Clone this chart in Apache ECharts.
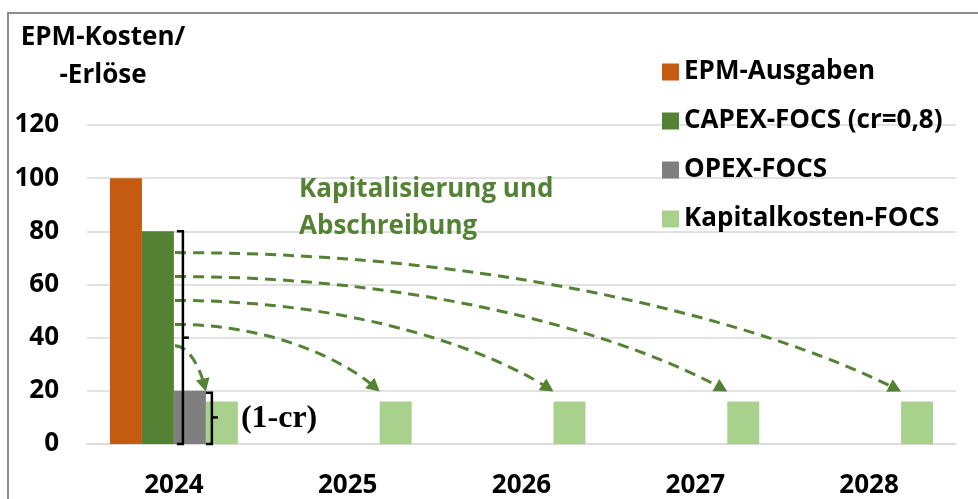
<!DOCTYPE html>
<html>
<head>
<meta charset="utf-8">
<title>EPM-Kosten</title>
<script src="https://cdn.jsdelivr.net/npm/echarts@6/dist/echarts.min.js"></script>
<style>
  html, body { margin: 0; padding: 0; background: #fff; }
  #chart { width: 978px; height: 499px; }
</style>
</head>
<body>
<div id="chart"></div>
<script>
const years = ['2024', '2025', '2026', '2027', '2028']
const epmAusgaben = [100, null, null, null, null]
const capexFocs = [80, null, null, null, null]
const opexFocs = [20, null, null, null, null]
const kapitalkostenFocs = [16, 16, 16, 16, 16]
const yTicks = [0, 20, 40, 60, 80, 100, 120]
// start heights of the dashed arrows on the CAPEX bar, one per target year
const arrowStarts = [37, 45, 54, 63, 72]

const fontFamily = '"Open Sans", Lato, sans-serif'
const fontSize = 26
const green = '#548235'
const barCategoryGap = 0.264

const chart = echarts.init(document.getElementById('chart'))

function bar(name, data, color) {
  return {
    name: name,
    type: 'bar',
    data: data,
    barGap: '0%',
    barCategoryGap: (barCategoryGap * 100) + '%',
    itemStyle: { color: color },
    emphasis: { disabled: true }
  }
}

chart.setOption({
  animation: false,
  grid: { left: 87, right: 22, top: 125, bottom: 53 },
  legend: {
    orient: 'vertical',
    left: 657,
    top: 52,
    itemWidth: 17,
    itemHeight: 17,
    itemGap: 19,
    icon: 'rect',
    selectedMode: false,
    textStyle: {
      fontFamily: fontFamily,
      fontWeight: 'bold',
      fontSize: fontSize,
      lineHeight: 30,
      color: '#000'
    }
  },
  xAxis: {
    type: 'category',
    data: years,
    axisLine: { lineStyle: { color: '#d9d9d9', width: 1.5 } },
    axisTick: { show: false },
    axisLabel: {
      margin: 29,
      fontFamily: fontFamily,
      fontWeight: 'bold',
      fontSize: fontSize,
      color: '#000'
    }
  },
  yAxis: {
    type: 'value',
    min: yTicks[0],
    max: yTicks[yTicks.length - 1],
    interval: yTicks[1] - yTicks[0],
    axisLine: { show: false },
    axisTick: { show: false },
    splitLine: { lineStyle: { color: '#d9d9d9', width: 1.5 } },
    axisLabel: {
      margin: 28,
      fontFamily: fontFamily,
      fontWeight: 'bold',
      fontSize: fontSize,
      color: '#000'
    }
  },
  series: [
    bar('EPM-Ausgaben', epmAusgaben, '#c55a11'),
    bar('CAPEX-FOCS (cr=0,8)', capexFocs, green),
    bar('OPEX-FOCS', opexFocs, '#7f7f7f'),
    bar('Kapitalkosten-FOCS', kapitalkostenFocs, '#a9d18e')
  ]
})

// annotations, placed from data coordinates
function drawAnnotations() {
  const px = (cat, val) => chart.convertToPixel({ gridIndex: 0 }, [cat, val])
  const band = px(years[1], 0)[0] - px(years[0], 0)[0]
  const barW = band * (1 - barCategoryGap) / 4
  const c0 = px(years[0], 0)[0]
  const y = v => px(years[0], v)[1]

  const els = []

  // outer frame
  els.push({
    type: 'rect', silent: true, z: 0,
    shape: { x: 8, y: 13, width: 1000, height: 600 },
    style: { fill: null, stroke: '#8c8c8c', lineWidth: 2 }
  })

  // axis title
  els.push({
    type: 'text', silent: true,
    style: {
      x: 103, y: 19, text: 'EPM-Kosten/\n-Erlöse', align: 'center',
      font: 'bold ' + fontSize + 'px ' + fontFamily, lineHeight: 38, fill: '#000'
    }
  })

  // green caption
  els.push({
    type: 'text', silent: true,
    style: {
      x: 299, y: 171, text: 'Kapitalisierung und\nAbschreibung',
      font: 'bold ' + fontSize + 'px ' + fontFamily, lineHeight: 37, fill: green
    }
  })

  // big bracket next to CAPEX bar (80 .. 0)
  const bx = c0 + 9
  els.push({
    type: 'polyline', silent: true, z: 10,
    shape: { points: [[bx - 6, y(80)], [bx, y(80)], [bx, y(0)], [bx - 6, y(0)]] },
    style: { stroke: '#000', lineWidth: 2.5, fill: null }
  })
  els.push({
    type: 'line', silent: true, z: 10,
    shape: { x1: bx, y1: y(40), x2: bx + 6, y2: y(40) },
    style: { stroke: '#000', lineWidth: 2.5 }
  })

  // small bracket (20 .. 0)
  const sx = c0 + barW + 6
  els.push({
    type: 'polyline', silent: true, z: 10,
    shape: { points: [[sx - 6, y(20) + 2], [sx, y(20) + 2], [sx, y(0)], [sx - 6, y(0)]] },
    style: { stroke: '#000', lineWidth: 2.5, fill: null }
  })
  els.push({
    type: 'line', silent: true, z: 10,
    shape: { x1: sx, y1: y(10), x2: sx + 6, y2: y(10) },
    style: { stroke: '#000', lineWidth: 2.5 }
  })
  els.push({
    type: 'text', silent: true,
    style: {
      x: sx + 29, y: y(9.5), text: '(1-cr)', verticalAlign: 'middle',
      font: 'bold 32px "Liberation Serif", "DejaVu Serif", serif', fill: '#000'
    }
  })

  // dashed arrows from CAPEX bar to each Kapitalkosten bar
  years.forEach((yr, i) => {
    const x0 = c0 + 1
    const y0 = y(arrowStarts[i])
    const x3 = px(yr, 0)[0] + barW
    const y3 = y(kapitalkostenFocs[i]) - 10
    const dx = x3 - x0
    const dy = y3 - y0
    const p1 = [x0 + 0.5 * dx, y0]
    const p2 = [x0 + 0.85 * dx, y0 + 0.6 * dy]
    // arrow head along end tangent
    let tx = x3 - p2[0]
    let ty = y3 - p2[1]
    const len = Math.sqrt(tx * tx + ty * ty)
    tx /= len
    ty /= len
    const hl = 13
    const hw = 7
    const bxh = x3 - tx * hl
    const byh = y3 - ty * hl
    els.push({
      type: 'bezierCurve', silent: true, z: 9,
      shape: {
        x1: x0, y1: y0, cpx1: p1[0], cpy1: p1[1], cpx2: p2[0], cpy2: p2[1],
        x2: x3 - tx * 8, y2: y3 - ty * 8
      },
      style: { stroke: green, lineWidth: 3, lineDash: [11, 7], fill: null }
    })
    els.push({
      type: 'polygon', silent: true, z: 9,
      shape: {
        points: [[x3, y3], [bxh - ty * hw, byh + tx * hw], [bxh + ty * hw, byh - tx * hw]]
      },
      style: { fill: green }
    })
  })

  chart.setOption({ graphic: { elements: els } })
}

drawAnnotations()
</script>
</body>
</html>
